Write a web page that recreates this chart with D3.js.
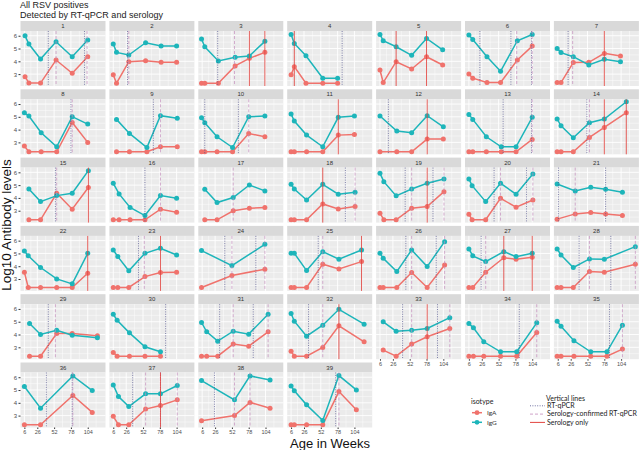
<!DOCTYPE html>
<html>
<head>
<meta charset="utf-8">
<script src="https://cdn.jsdelivr.net/npm/d3@7"></script>
<style>
body{margin:0;background:#fff;}
svg{display:block;font-family:"Liberation Sans",Arial,sans-serif;}
</style>
</head>
<body>
<script>
// facet ids, sample ages (weeks) and log10 antibody levels per child
const panelIds=d3.range(1,40);
const sampleWeeks=[
 [7,13,31,55,80,104],[6,11,30,56,80,104],[5,10,31,57,79,103],[6,11,29,55,78],[6,11,31,55,78,103],[6,12,34,55,81,104],[5,11,30,54,78,103],
 [6,13,32,56,80,104],[11,31,58,79,105],[5,10,29,53,78,103],[6,11,30,55,79,104],[6,32,55,79,104],[6,12,33,56,79,104],[5,11,30,55,78,112],
 [13,31,56,80,105],[6,15,32,55,79,104],[10,29,54,79,103],[6,11,30,55,79,105],[6,12,31,55,79,105],[6,11,32,55,79,105],[5,33,57,80,106],
 [6,12,31,56,80,104],[6,13,30,55,79,104],[5,52,103],[6,11,30,55,80,115],[6,11,32,55,79,106],[6,12,32,60,79,104],[5,11,30,55,78,126],
 [14,31,56,80,119],[6,12,31,55,79],[5,13,30,54,78,108],[6,11,30,55,80,119],[11,31,55,79,114],[6,13,29,55,80,111],[5,11,31,57,82,106],
 [6,31,81,111],[6,14,30,56,79,105],[5,56,80,111],[6,11,30,55,80,107]
];
const igG=[
 [5.99,5.35,4.18,5.53,4.36,5.66],[5.35,4.7,4.49,5.45,5.19,5.19],[5.74,5.14,4.03,4.31,4.42,5.56],[6.1,5.4,4.44,2.68,2.68],[6.1,5.61,5.14,4.47,5.79,4.9],[6.05,5.71,4.36,3.22,5.61,6.1],[5.01,4.68,4.36,3.71,4.16,3.97],
 [5.32,5.06,3.75,2.66,5.01,4.43],[4.8,3.7,2.6,5.09,4.88],[4.93,4.54,3.44,2.6,5.01,5.06],[5.22,4.67,3.57,2.66,4.96,5.06],[5.06,3.89,3.75,5.09,4.22],[5.19,4.8,3.44,2.66,2.66,4.96],[4.83,4.3,3.36,4.54,4.83,6.18],
 [4.7,3.71,4.18,4.36,6.13],[5.14,4.31,3.25,2.62,4.18,3.97],[4.68,3.64,4.03,5.01,4.55],[5.06,4.7,3.84,5.06,4.29,4.44],[5.92,5.27,4.16,4.7,5.14,5.48],[5.48,4.96,3.71,5.14,4.29,5.87],[5.09,4.55,4.83,4.68,4.44],
 [5.19,4.81,3.9,3.01,2.62,5.01],[5.27,4.75,3.64,5.01,5.4,4.88],[5.22,4.05,5.71],[5.01,5.01,3.66,5.14,4.55,5.27],[5.01,4.62,3.58,5.27,3.97,5.92],[5.35,4.81,4.36,5.14,4.75,5.01],[5.35,4.88,3.9,4.57,4.55,5.53],
 [4.86,4.0,4.34,3.95,3.74],[5.58,5.12,4.13,3.04,2.65],[4.94,4.21,3.48,4.26,4.03,5.58],[5.64,5.04,3.87,4.73,5.97,4.81],[4.99,4.26,4.34,4.47,5.32],[4.86,4.52,3.43,2.65,2.65,4.91],[5.04,4.65,3.51,2.65,2.65,4.73],
 [5.27,3.58,6.1,4.96],[5.4,4.49,3.71,4.7,4.7,5.35],[5.74,4.23,6.1,5.79],[5.32,4.94,3.84,2.62,6.13,5.01]
];
const igA=[
 [2.8,2.3,2.3,4.1,3.07,4.36],[2.94,2.29,3.97,4.05,3.92,3.92],[2.29,2.29,2.29,3.64,4.23,4.7],[2.94,3.58,2.29,2.29,2.29],[3.32,2.34,3.97,3.4,4.36,3.71],[3.01,2.68,2.34,2.34,4.1,5.19],[2.34,2.34,3.9,3.92,4.62,4.42],
 [2.71,2.27,2.27,2.27,4.56,3.0],[2.27,2.27,2.27,2.66,2.66],[2.27,2.27,2.27,2.27,3.7,3.44],[2.27,2.27,2.27,2.27,3.57,3.62],[2.27,2.27,2.27,3.26,3.26],[2.27,2.27,2.27,2.27,2.27,3.23],[2.27,2.27,2.27,3.39,4.17,5.32],
 [2.29,2.29,4.36,3.12,4.81],[2.29,2.29,2.29,2.29,3.12,2.88],[2.29,2.29,2.99,3.19,3.25],[2.29,2.29,2.29,3.53,3.14,3.32],[2.81,2.29,2.29,3.19,3.32,4.49],[2.73,2.29,2.29,3.97,3.27,3.84],[2.34,2.75,2.86,2.75,2.62],
 [3.53,2.34,2.34,2.34,2.34,3.45],[2.34,2.34,2.34,3.19,3.51,3.53],[2.34,3.27,3.77],[2.34,2.34,2.34,4.16,3.79,4.36],[2.34,2.34,2.34,3.51,2.34,4.1],[2.34,2.34,3.53,4.66,4.55,4.7],[2.34,2.34,2.34,3.58,3.53,4.16],
 [2.31,2.31,4.08,4.08,3.9],[2.6,2.31,2.31,2.31,2.31],[2.31,2.31,2.31,3.25,3.09,4.21],[2.7,2.31,2.31,2.99,4.68,3.43],[2.78,2.31,3.25,3.82,4.47],[2.31,2.31,2.31,2.31,2.31,4.16],[2.31,2.31,2.31,2.31,2.31,2.86],
 [2.29,2.29,4.57,3.25],[2.94,2.29,2.29,3.51,3.79,4.23],[2.6,3.01,4.03,3.58],[2.29,2.29,2.29,2.29,4.88,3.45]
];
// vertical lines (weeks)
const rtqpcr=[
 [43,99],[28],[30],[85],[],[23,71,103],[22],
 [78],[68],[10,62],[],[19],[59,103],[51],
 [54],[55],[],[90],[45,88],[45,95],[7,80],
 [],[45],[41,89],[48],[46,93],[25],[39,88],
 [43],[87],[33,85],[33],[41,95],[84],[86],
 [40,80],[36,79],[25],[75]
];
const seroConfirmed=[
 [55,103],[30],[56],[],[],[80,104],[29],
 [80],[79],[78],[],[],[104],[55],
 [56],[79],[54],[105],[55,105],[55,105],[33],
 [],[54],[52,103],[55],[55,106],[32],[55,126],
 [54],[],[54,108],[55],[55,114],[111],[106],
 [81],[56,79,105],[56,80],[80]
];
const seroOnly=[
 [],[],[79,103],[11],[31,78],[],[78],
 [],[],[],[79],[79],[],[78,112],
 [105],[],[],[55],[79],[],[],
 [104],[79],[],[115],[],[60,104],[],
 [],[],[],[80],[79],[],[],
 [],[79],[],[]
];
const xBreaks=[6,26,52,78,104];
const xMinor=[16,39,65,91,117];
const yBreaks=[3,4,5,6];
const yMinor=[2.5,3.5,4.5,5.5];
const isotypes=['IgA','IgG'];
const lineTypes=['RT-qPCR','Serology-confirmed RT-qPCR','Serology only'];

const colA='#f0726c', colG='#1db5ba';
const vStyle={
  'RT-qPCR':{stroke:'#4e4f8c',dash:'1,1.4',w:0.8},
  'Serology-confirmed RT-qPCR':{stroke:'#c48bbd',dash:'3,2',w:0.8},
  'Serology only':{stroke:'#e2443f',dash:null,w:1}
};

const svg=d3.select('body').append('svg').attr('width',640).attr('height',450);

const panelW=85,panelH=55,stripH=10;
const colStep=88.9,rowStep=68.3,left0=20.5,top0=21;

const x=d3.scaleLinear().domain([0,131.5]).range([0,panelW]);
const y=d3.scaleLinear().domain([2.07,6.37]).range([panelH,0]);

// titles
svg.append('text').attr('x',20).attr('y',8).attr('font-size',9).attr('fill','#222').text('All RSV positives');
svg.append('text').attr('x',20).attr('y',17.5).attr('font-size',9).attr('fill','#222').text('Detected by RT-qPCR and serology');
svg.append('text').attr('transform','translate(11,225) rotate(-90)').attr('text-anchor','middle')
  .attr('font-size',13.5).attr('fill','#111').text('Log10 Antibody levels');
svg.append('text').attr('x',330).attr('y',447.5).attr('text-anchor','middle')
  .attr('font-size',13).attr('fill','#111').text('Age in Weeks');

const line=d3.line().x(d=>x(d[0])).y(d=>y(d[1]));

panelIds.forEach((id,i)=>{
  const col=i%7,row=Math.floor(i/7);
  const g=svg.append('g').attr('transform',`translate(${left0+col*colStep},${top0+row*rowStep})`);
  g.append('rect').attr('width',panelW).attr('height',stripH).attr('fill','#d9d9d9');
  g.append('text').attr('x',panelW/2).attr('y',stripH/2+2).attr('text-anchor','middle')
    .attr('font-size',6).attr('fill','#333').text(id);

  const p=g.append('g').attr('transform',`translate(0,${stripH})`);
  p.append('rect').attr('width',panelW).attr('height',panelH).attr('fill','#ebebeb');
  p.selectAll('.ymin').data(yMinor).enter().append('line')
    .attr('x1',0).attr('x2',panelW).attr('y1',d=>y(d)).attr('y2',d=>y(d))
    .attr('stroke','#fff').attr('stroke-width',0.45);
  p.selectAll('.xmin').data(xMinor).enter().append('line')
    .attr('y1',0).attr('y2',panelH).attr('x1',d=>x(d)).attr('x2',d=>x(d))
    .attr('stroke','#fff').attr('stroke-width',0.45);
  p.selectAll('.ymaj').data(yBreaks).enter().append('line')
    .attr('x1',0).attr('x2',panelW).attr('y1',d=>y(d)).attr('y2',d=>y(d))
    .attr('stroke','#fff').attr('stroke-width',0.9);
  p.selectAll('.xmaj').data(xBreaks).enter().append('line')
    .attr('y1',0).attr('y2',panelH).attr('x1',d=>x(d)).attr('x2',d=>x(d))
    .attr('stroke','#fff').attr('stroke-width',0.9);

  const wk=sampleWeeks[i];
  const a=wk.map((w,k)=>[w,igA[i][k]]);
  const gg=wk.map((w,k)=>[w,igG[i][k]]);
  [[a,colA],[gg,colG]].forEach(([pts,c])=>{
    p.append('path').datum(pts).attr('d',line).attr('fill','none').attr('stroke',c).attr('stroke-width',1.5);
    p.selectAll(null).data(pts).enter().append('circle')
      .attr('cx',d=>x(d[0])).attr('cy',d=>y(d[1])).attr('r',2.5).attr('fill',c);
  });

  // vertical lines drawn over the series
  [[rtqpcr[i],'RT-qPCR'],[seroConfirmed[i],'Serology-confirmed RT-qPCR'],[seroOnly[i],'Serology only']].forEach(([vals,t])=>{
    const s=vStyle[t];
    p.selectAll(null).data(vals).enter().append('line')
      .attr('x1',d=>x(d)).attr('x2',d=>x(d)).attr('y1',0).attr('y2',panelH)
      .attr('stroke',s.stroke).attr('stroke-width',s.w).attr('stroke-dasharray',s.dash)
      .attr('opacity',0.85);
  });

  if(col===0){
    const ax=p.append('g').call(d3.axisLeft(y).tickValues(yBreaks).tickFormat(d3.format('d')).tickSize(2).tickPadding(1.5));
    ax.select('.domain').remove();
    ax.selectAll('line').attr('stroke','#333');
    ax.selectAll('text').attr('font-size',6).attr('fill','#4d4d4d').attr('font-family','"Liberation Sans",Arial,sans-serif');
  }
  if(id>=33){
    const ax=p.append('g').attr('transform',`translate(0,${panelH})`)
      .call(d3.axisBottom(x).tickValues(xBreaks).tickSize(1.5).tickPadding(1));
    ax.select('.domain').remove();
    ax.selectAll('line').attr('stroke','#333');
    ax.selectAll('text').attr('font-size',5.5).attr('fill','#4d4d4d').attr('font-family','"Liberation Sans",Arial,sans-serif');
  }
});

// legends
const lf='Lato,"Open Sans",sans-serif';
const leg1=svg.append('g').attr('transform','translate(470,0)');
leg1.append('text').attr('x',1).attr('y',404).attr('font-size',7).attr('font-family',lf).attr('fill','#222').text('isotype');
isotypes.forEach((n,k)=>{
  const yy=412.7+k*9.6, c=k?colG:colA;
  leg1.append('line').attr('x1',2).attr('x2',12).attr('y1',yy).attr('y2',yy).attr('stroke',c).attr('stroke-width',1.5);
  leg1.append('circle').attr('cx',7).attr('cy',yy).attr('r',2.4).attr('fill',c);
  leg1.append('text').attr('x',17).attr('y',yy+2.3).attr('font-size',6.5).attr('font-family',lf).attr('fill','#333').text(n);
});
const leg2=svg.append('g').attr('transform','translate(530,0)');
leg2.append('text').attr('x',16).attr('y',400.5).attr('font-size',7).attr('font-family',lf).attr('fill','#222').text('Vertical lines');
lineTypes.forEach((n,k)=>{
  const yy=405.8+k*8.3, s=vStyle[n];
  leg2.append('line').attr('x1',0).attr('x2',15).attr('y1',yy).attr('y2',yy)
    .attr('stroke',s.stroke).attr('stroke-width',s.w).attr('stroke-dasharray',s.dash);
  leg2.append('text').attr('x',17).attr('y',yy+2.3).attr('font-size',7).attr('font-family',lf).attr('fill','#222').text(n);
});
</script>
</body>
</html>
